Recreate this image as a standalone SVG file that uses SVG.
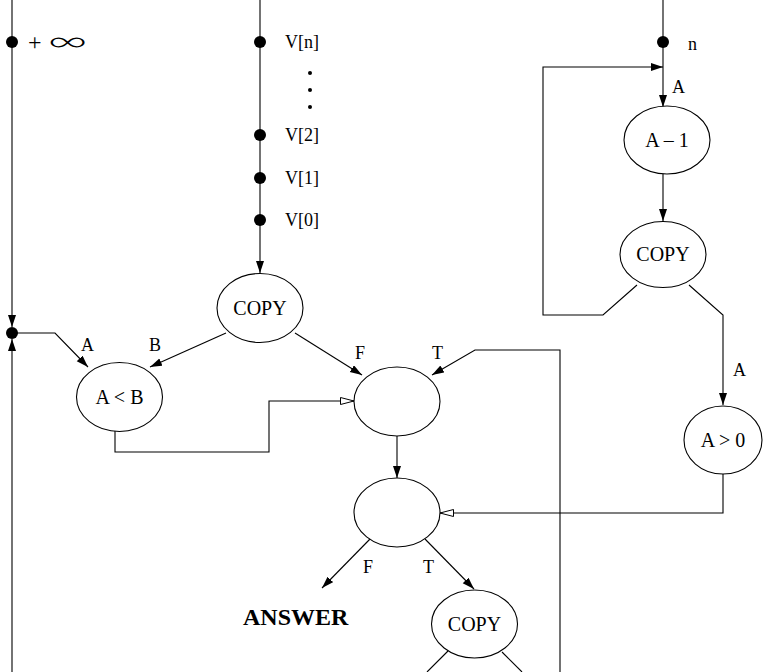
<svg xmlns="http://www.w3.org/2000/svg" width="763" height="672" viewBox="0 0 763 672">
<style>
.ln{fill:none;stroke:#000;stroke-width:1.1}
.nd{fill:#fff;stroke:#000;stroke-width:1.1}
.t{font-family:"Liberation Serif","Times New Roman",serif;font-size:18px;fill:#000}
.c{text-anchor:middle;font-size:20px}
.b{font-weight:bold;font-size:24px}
.dot{fill:#000}
</style>
<defs>
<marker id="ah" markerUnits="userSpaceOnUse" markerWidth="13" markerHeight="9" refX="12" refY="4" orient="auto">
<path d="M0,0 L12,4 L0,8 z" fill="#000"/>
</marker>
<marker id="oh" markerUnits="userSpaceOnUse" markerWidth="16" markerHeight="9" refX="14" refY="4" orient="auto">
<path d="M0.5,0.5 L14,4 L0.5,7.5 z" fill="#fff" stroke="#000" stroke-width="1"/>
</marker>
</defs>
<rect width="763" height="672" fill="#fff"/>
<g id="connectors">
<path class="ln" d="M12,0 V327" marker-end="url(#ah)"/>
<path class="ln" d="M12,672 V339" marker-end="url(#ah)"/>
<path class="ln" d="M12,333 H55 L88,367" marker-end="url(#ah)"/>
<path class="ln" d="M260,0 V273" marker-end="url(#ah)"/>
<path class="ln" d="M226,333 L150,367" marker-end="url(#ah)"/>
<path class="ln" d="M295,333 L362,375" marker-end="url(#ah)"/>
<path class="ln" d="M560,672 V350 H475 L432,375" marker-end="url(#ah)"/>
<path class="ln" d="M115,430 V452 H269 V401 H354" marker-end="url(#oh)"/>
<path class="ln" d="M397,436 V478" marker-end="url(#ah)"/>
<path class="ln" d="M723,474 V513 H440" marker-end="url(#oh)"/>
<path class="ln" d="M371,538 L322,588" marker-end="url(#ah)"/>
<path class="ln" d="M425,539 L474,589" marker-end="url(#ah)"/>
<path class="ln" d="M448,651 L427,672"/>
<path class="ln" d="M502,652 L522,672"/>
<path class="ln" d="M663,0 V107" marker-end="url(#ah)"/>
<path class="ln" d="M663,174 V221" marker-end="url(#ah)"/>
<path class="ln" d="M637,285 L603,315 H543 V67 H663" marker-end="url(#ah)"/>
<path class="ln" d="M689,285 L723,315 V405" marker-end="url(#ah)"/>
</g>
<g id="inf">
<circle class="dot" cx="12" cy="42" r="6"/>
<text class="t" x="28" y="50" style="font-size:24px">+</text>
<text x="47" y="52" textLength="41" lengthAdjust="spacingAndGlyphs" style="font-family:Lato,'DejaVu Sans',sans-serif;font-size:32px;font-weight:300;fill:#000">∞</text>
</g>
<g id="merge"><circle class="dot" cx="12" cy="333" r="6"/></g>
<g id="vn"><circle class="dot" cx="260" cy="42" r="6"/><text class="t" x="285" y="48">V[n]</text></g>
<g id="ellipsis"><circle class="dot" cx="310" cy="73" r="2"/><circle class="dot" cx="310" cy="90" r="2"/><circle class="dot" cx="310" cy="107" r="2"/></g>
<g id="v2"><circle class="dot" cx="260" cy="135" r="6"/><text class="t" x="285" y="141">V[2]</text></g>
<g id="v1"><circle class="dot" cx="260" cy="178" r="6"/><text class="t" x="285" y="184">V[1]</text></g>
<g id="v0"><circle class="dot" cx="260" cy="220" r="6"/><text class="t" x="285" y="226">V[0]</text></g>
<g id="nin"><circle class="dot" cx="663" cy="42" r="6"/><text class="t" x="688" y="50">n</text></g>
<g id="copy1"><ellipse class="nd" cx="260" cy="308" rx="43" ry="34.5"/><text class="t c" x="260" y="315">COPY</text></g>
<g id="altb"><ellipse class="nd" cx="119.5" cy="397" rx="43" ry="34.5"/><text class="t c" x="119.5" y="404">A &lt; B</text></g>
<g id="sel1"><ellipse class="nd" cx="397" cy="401.5" rx="43" ry="34.5"/></g>
<g id="sel2"><ellipse class="nd" cx="397" cy="512.5" rx="43" ry="34.5"/></g>
<g id="copy3"><ellipse class="nd" cx="474.5" cy="624" rx="43" ry="34"/><text class="t c" x="474.5" y="631">COPY</text></g>
<g id="am1"><ellipse class="nd" cx="667" cy="140" rx="43" ry="34"/><text class="t c" x="667" y="147">A – 1</text></g>
<g id="copy2"><ellipse class="nd" cx="663" cy="254.5" rx="43" ry="33"/><text class="t c" x="663" y="261">COPY</text></g>
<g id="agt0"><ellipse class="nd" cx="723" cy="440" rx="39" ry="34"/><text class="t c" x="723" y="447">A &gt; 0</text></g>
<g id="answer"><text class="t b" x="243" y="625">ANSWER</text></g>
<g id="labels">
<text class="t" x="672" y="93">A</text>
<text class="t" x="81" y="351">A</text>
<text class="t" x="149" y="351">B</text>
<text class="t" x="355" y="359">F</text>
<text class="t" x="432" y="359">T</text>
<text class="t" x="733" y="376">A</text>
<text class="t" x="363" y="573">F</text>
<text class="t" x="423" y="573">T</text>
</g>
</svg>
